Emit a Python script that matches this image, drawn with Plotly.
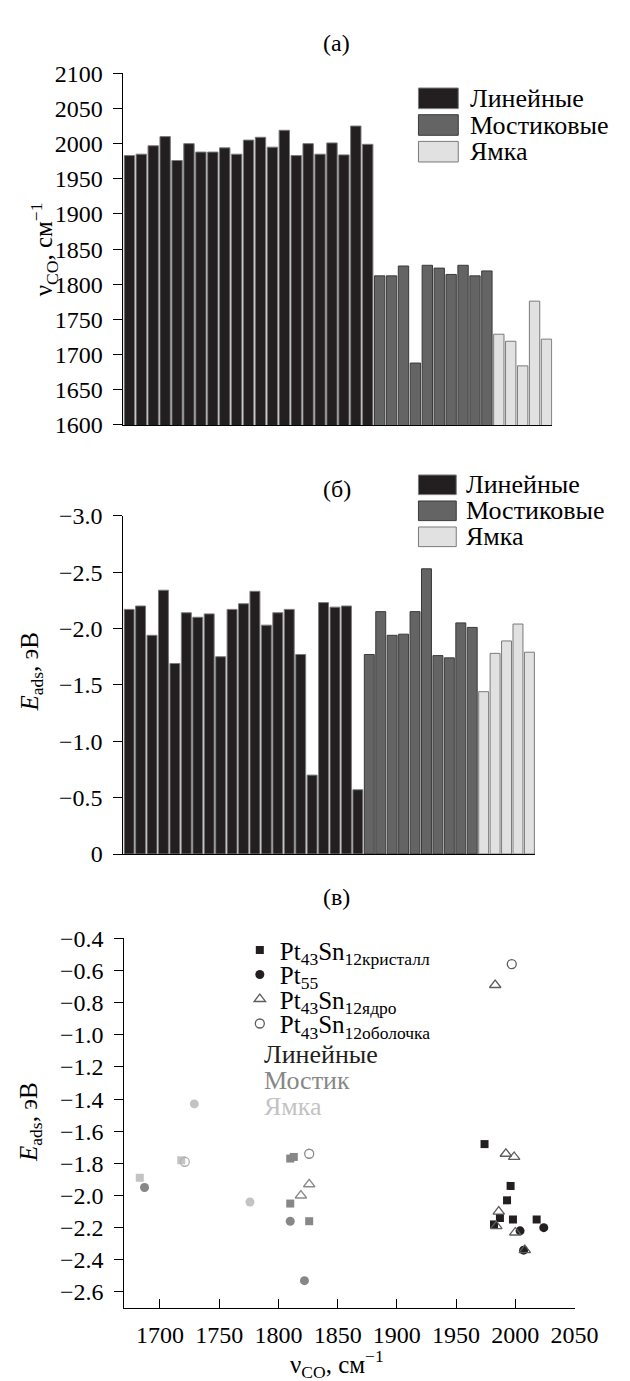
import plotly.graph_objects as go

W, H = 630, 1381


def px(x):
    return x / W


def py(y):
    return 1 - y / H


FONT = "Liberation Serif, Times New Roman, serif"

# ---------------- data ----------------
site_names = ["Линейные", "Мостиковые", "Ямка"]
site_names_c = ["Линейные", "Мостик", "Ямка"]
bar_colors = ["#231f20", "#646464", "#e1e1e1"]
bar_edges = ["#7a7a7a", "#3a3a3a", "#7a7a7a"]
pt_colors = ["#231f20", "#878787", "#c3c3c3"]
open_colors = ["#5e5e5e", "#8a8a8a", "#b0b0b0"]

# panel (a): CO stretching frequency, cm^-1
nu_linear = [1983, 1985, 1997, 2010, 1976, 2000, 1988, 1988, 1994, 1985, 2005,
             2009, 1995, 2019, 1983, 2000, 1985, 2001, 1984, 2025, 1999]
nu_bridge = [1812, 1812, 1826, 1688, 1827, 1823, 1814, 1827, 1812, 1819]
nu_hollow = [1729, 1719, 1684, 1776, 1722]

# panel (b): adsorption energy, eV
E_linear = [-2.17, -2.20, -1.94, -2.34, -1.69, -2.14, -2.10, -2.13, -1.75, -2.17, -2.22,
            -2.33, -2.03, -2.14, -2.17, -1.77, -0.70, -2.23, -2.19, -2.20, -0.57]
E_bridge = [-1.77, -2.15, -1.94, -1.95, -2.15, -2.53, -1.76, -1.74, -2.05, -2.01]
E_hollow = [-1.44, -1.78, -1.89, -2.04, -1.79]

# panel (c): scatter, per cluster and site
cryst_lin_nu = [1974, 1996, 1993, 1987, 1982, 1998, 2018]
cryst_lin_E = [-1.68, -1.94, -2.03, -2.14, -2.18, -2.15, -2.15]
cryst_br_nu = [1810, 1813, 1810, 1826]
cryst_br_E = [-1.77, -1.76, -2.05, -2.16]
cryst_ho_nu = [1683, 1718]
cryst_ho_E = [-1.89, -1.78]

pt55_lin_nu = [2024, 2004, 2007]
pt55_lin_E = [-2.20, -2.22, -2.34]
pt55_br_nu = [1687, 1810, 1822]
pt55_br_E = [-1.95, -2.16, -2.53]
pt55_ho_nu = [1729, 1776]
pt55_ho_E = [-1.43, -2.04]

core_lin_nu = [1983, 1992, 1999, 1986, 1984, 2000, 2008]
core_lin_E = [-0.69, -1.74, -1.76, -2.10, -2.19, -2.23, -2.34]
core_br_nu = [1826, 1819]
core_br_E = [-1.93, -2.00]
core_ho_nu = []
core_ho_E = []

shell_lin_nu = [1997]
shell_lin_E = [-0.56]
shell_br_nu = [1826]
shell_br_E = [-1.74]
shell_ho_nu = [1721]
shell_ho_E = [-1.79]

series_names = ["Pt<sub>43</sub>Sn<sub>12кристалл</sub>", "Pt<sub>55</sub>",
                "Pt<sub>43</sub>Sn<sub>12ядро</sub>", "Pt<sub>43</sub>Sn<sub>12оболочка</sub>"]
series_symbols = ["square", "circle", "triangle-up-open", "circle-open"]
series_sizes = [8, 9, 10, 9]
series_data = [
    [(cryst_lin_nu, cryst_lin_E), (cryst_br_nu, cryst_br_E), (cryst_ho_nu, cryst_ho_E)],
    [(pt55_lin_nu, pt55_lin_E), (pt55_br_nu, pt55_br_E), (pt55_ho_nu, pt55_ho_E)],
    [(core_lin_nu, core_lin_E), (core_br_nu, core_br_E), (core_ho_nu, core_ho_E)],
    [(shell_lin_nu, shell_lin_E), (shell_br_nu, shell_br_E), (shell_ho_nu, shell_ho_E)],
]

nu_ticks_a = [1600, 1650, 1700, 1750, 1800, 1850, 1900, 1950, 2000, 2050, 2100]
E_ticks_b = [0, -0.5, -1.0, -1.5, -2.0, -2.5, -3.0]
E_text_b = ["0", "−0.5", "−1.0", "−1.5", "−2.0", "−2.5", "−3.0"]
nu_ticks_c = [1700, 1750, 1800, 1850, 1900, 1950, 2000, 2050]
E_ticks_c = [-0.4, -0.6, -0.8, -1.0, -1.2, -1.4, -1.6, -1.8, -2.0, -2.2, -2.4, -2.6]
E_text_c = ["−0.4", "−0.6", "−0.8", "−1.0", "−1.2", "−1.4", "−1.6", "−1.8",
            "−2.0", "−2.2", "−2.4", "−2.6"]

# ---------------- figure ----------------
fig = go.Figure()

groups_nu = [nu_linear, nu_bridge, nu_hollow]
groups_E = [E_linear, E_bridge, E_hollow]
n_bars = sum(len(g) for g in groups_nu)

start = 0
for i, (nu, E) in enumerate(zip(groups_nu, groups_E)):
    idx = list(range(start, start + len(nu)))
    start += len(nu)
    fig.add_trace(go.Bar(x=idx, y=nu, xaxis="x", yaxis="y", showlegend=False,
                         marker=dict(color=bar_colors[i], line=dict(color=bar_edges[i], width=1))))
    fig.add_trace(go.Bar(x=idx, y=E, xaxis="x2", yaxis="y2", showlegend=False,
                         marker=dict(color=bar_colors[i], line=dict(color=bar_edges[i], width=1))))

legend_ids = ["legend", "legend2", "legend3", "legend4"]
legend_rows = [947, 972, 997, 1022]

for s, (name, sym, size, data) in enumerate(zip(series_names, series_symbols, series_sizes, series_data)):
    for k, (xs, ys) in enumerate(data):
        if not xs:
            continue
        is_open = sym.endswith("open")
        col = open_colors[k] if is_open else pt_colors[k]
        fig.add_trace(go.Scatter(
            x=xs, y=ys, mode="markers", xaxis="x3", yaxis="y3",
            name=name, legendgroup=name, showlegend=(k == 0), legend=legend_ids[s],
            marker=dict(symbol=sym, size=size, color=col,
                        line=dict(color=col, width=1.3 if is_open else 0)),
        ))

axis_common = dict(showgrid=False, zeroline=False, showline=True, linecolor="black",
                   linewidth=1, tickcolor="black", tickfont=dict(family=FONT, size=24, color="black"))

layout_legends = {}
for lid, yc in zip(legend_ids, legend_rows):
    layout_legends[lid] = dict(x=px(241), y=py(yc), xanchor="left", yanchor="middle",
                               bgcolor="rgba(0,0,0,0)", borderwidth=0,
                               font=dict(family=FONT, size=25, color="black"),
                               itemsizing="trace")

fig.update_layout(
    width=W, height=H,
    margin=dict(l=0, r=0, t=0, b=0),
    paper_bgcolor="white", plot_bgcolor="white",
    bargap=0.13,
    font=dict(family=FONT, size=24, color="black"),
    xaxis=dict(domain=[px(120), px(566)], range=[-0.5, n_bars - 0.5], anchor="y",
               showticklabels=False, ticks="", **axis_common),
    yaxis=dict(domain=[py(411.7), py(53.3)], range=[1600, 2100], anchor="x",
               tickvals=nu_ticks_a, ticks="outside", ticklen=9, ticklabelstandoff=6, **axis_common),
    xaxis2=dict(domain=[px(120), px(548)], range=[-0.5, n_bars - 0.5], anchor="y2",
                showticklabels=False, ticks="", **axis_common),
    yaxis2=dict(domain=[py(849), py(504.3)], range=[0, -3], anchor="x2",
                tickvals=E_ticks_b, ticktext=E_text_b, ticks="outside", ticklen=9,
                ticklabelstandoff=6, **axis_common),
    xaxis3=dict(domain=[px(121), px(589)], range=[1670, 2050], anchor="y3",
                tickvals=nu_ticks_c, ticks="inside", ticklen=9, ticklabelstandoff=5, **axis_common),
    yaxis3=dict(domain=[py(1311.7), py(935)], range=[-2.7, -0.4], anchor="x3",
                tickvals=E_ticks_c, ticktext=E_text_c, ticks="outside", ticklen=9,
                ticklabelstandoff=6, **axis_common),
    **layout_legends,
)

annotations = []
shapes = []

# panel titles
for label, yc in [("(а)", 22), ("(б)", 477), ("(в)", 893)]:
    annotations.append(dict(text=label, x=px(342), y=py(yc), xref="paper", yref="paper",
                            showarrow=False, xanchor="center", yanchor="middle",
                            font=dict(family=FONT, size=24, color="black")))

# axis titles
nu_title = "ν<sub>CO</sub>, см<sup>−1</sup>"
E_title = "<i>E</i><sub>ads</sub>, эВ"
for text, xc, yc in [(nu_title, 37, 233), (E_title, 24, 663), (E_title, 24, 1122)]:
    annotations.append(dict(text=text, x=px(xc), y=py(yc), xref="paper", yref="paper",
                            showarrow=False, textangle=-90, xanchor="center", yanchor="middle",
                            font=dict(family=FONT, size=25, color="black")))
annotations.append(dict(text=nu_title, x=px(342), y=py(1369), xref="paper", yref="paper",
                        showarrow=False, xanchor="center", yanchor="middle",
                        font=dict(family=FONT, size=25, color="black")))

# bar legends for (a) and (б)
for top0, step, hbox, wbox, tx in [(68.3, 27.2, 21, 41.4, 478), (462.7, 26.5, 20, 39.3, 474)]:
    for i, name in enumerate(site_names):
        y0 = top0 + i * step
        shapes.append(dict(type="rect", xref="paper", yref="paper",
                           x0=px(426.7), x1=px(426.7 + wbox), y0=py(y0 + hbox), y1=py(y0),
                           fillcolor=bar_colors[i], line=dict(color=bar_edges[i], width=1)))
        annotations.append(dict(text=name, x=px(tx), y=py(y0 + hbox / 2), xref="paper", yref="paper",
                                showarrow=False, xanchor="left", yanchor="middle",
                                font=dict(family=FONT, size=26, color="black")))

# site-colour key in (в)
for i, name in enumerate(site_names_c):
    annotations.append(dict(text=name, x=px(264), y=py(1053 + i * 26.5), xref="paper", yref="paper",
                            showarrow=False, xanchor="left", yanchor="middle",
                            font=dict(family=FONT, size=26, color=pt_colors[i])))

fig.update_layout(annotations=annotations, shapes=shapes)

fig.write_html("out.html")
